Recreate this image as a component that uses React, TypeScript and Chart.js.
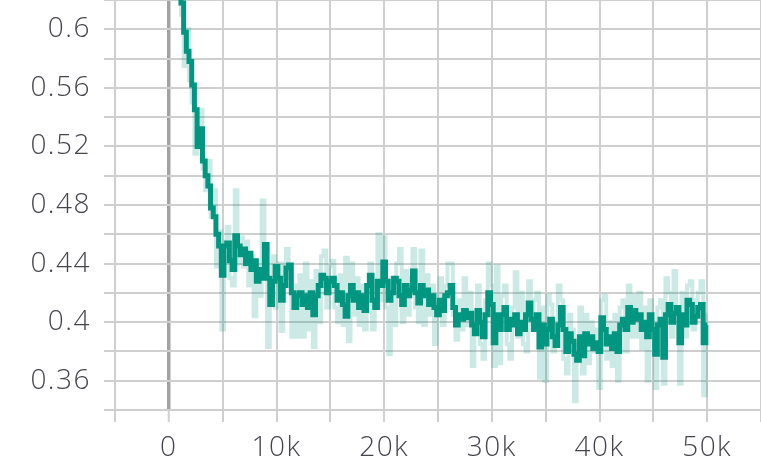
import React, { useEffect, useRef } from "react";
import { Chart, registerables } from "chart.js";

Chart.register(...registerables);

// Training steps: one logged value every 250 steps, from 0 to 50k
const STEP_START = 0;
const STEP_SIZE = 250;

// Smoothed curve (dark)
const smoothed = [
  0.80, 0.75, 0.71, 0.675, 0.645, 0.618, 0.598, 0.585, 0.578, 0.562,
  0.545, 0.52, 0.532, 0.51, 0.5, 0.493, 0.478, 0.472, 0.46, 0.452,
  0.432, 0.452, 0.454, 0.442, 0.436, 0.459, 0.452, 0.446, 0.45, 0.44,
  0.447, 0.436, 0.442, 0.428, 0.436, 0.43, 0.453, 0.43, 0.412, 0.428,
  0.438, 0.43, 0.415, 0.425, 0.437, 0.439, 0.42, 0.41, 0.418, 0.42,
  0.412, 0.418, 0.41, 0.42, 0.405, 0.418, 0.425, 0.432, 0.43, 0.42,
  0.428, 0.43, 0.425, 0.415, 0.42, 0.412, 0.404, 0.418, 0.425, 0.415,
  0.42, 0.41, 0.418, 0.408, 0.425, 0.432, 0.415, 0.41, 0.428, 0.425,
  0.441, 0.428, 0.415, 0.42, 0.43, 0.428, 0.418, 0.412, 0.425, 0.418,
  0.422, 0.435, 0.42, 0.413, 0.425, 0.418, 0.422, 0.412, 0.418, 0.41,
  0.405, 0.415, 0.408, 0.418, 0.42, 0.425, 0.41, 0.398, 0.405, 0.402,
  0.408, 0.403, 0.406, 0.398, 0.392, 0.408, 0.4, 0.39, 0.405, 0.42,
  0.412, 0.386, 0.405, 0.395, 0.405, 0.41, 0.395, 0.402, 0.398, 0.405,
  0.392, 0.4, 0.395, 0.405, 0.413, 0.402, 0.395, 0.405, 0.383, 0.398,
  0.385, 0.395, 0.402, 0.39, 0.384, 0.398, 0.41, 0.395, 0.38, 0.392,
  0.387, 0.378, 0.374, 0.39, 0.377, 0.392, 0.385, 0.39, 0.382, 0.386,
  0.38, 0.403, 0.395, 0.385, 0.39, 0.382, 0.392, 0.38, 0.398, 0.402,
  0.395, 0.41, 0.4, 0.408, 0.402, 0.405, 0.395, 0.4, 0.39, 0.405,
  0.395, 0.378, 0.398, 0.402, 0.376, 0.405, 0.412, 0.4, 0.406, 0.41,
  0.386, 0.405, 0.398, 0.415, 0.412, 0.4, 0.404, 0.41, 0.412, 0.386,
  0.398,
];

// Raw values (light)
const raw = [
  0.82, 0.74, 0.72, 0.66, 0.655, 0.61, 0.575, 0.6, 0.565, 0.55,
  0.515, 0.53, 0.545, 0.505, 0.49, 0.51, 0.472, 0.49, 0.438, 0.462,
  0.395, 0.455, 0.465, 0.43, 0.425, 0.49, 0.44, 0.458, 0.438, 0.455,
  0.425, 0.445, 0.404, 0.442, 0.418, 0.483, 0.44, 0.383, 0.425, 0.445,
  0.41, 0.44, 0.394, 0.44, 0.45, 0.43, 0.39, 0.425, 0.39, 0.432,
  0.39, 0.44, 0.395, 0.428, 0.383, 0.435, 0.4, 0.445, 0.449, 0.41,
  0.438, 0.442, 0.41, 0.4, 0.432, 0.398, 0.444, 0.387, 0.44, 0.405,
  0.43, 0.398, 0.425, 0.395, 0.42, 0.44, 0.395, 0.425, 0.46, 0.415,
  0.458, 0.41, 0.378, 0.43, 0.398, 0.44, 0.45, 0.4, 0.435, 0.405,
  0.43, 0.45, 0.41, 0.4, 0.449, 0.398, 0.432, 0.405, 0.425, 0.385,
  0.412, 0.43, 0.398, 0.425, 0.44, 0.44, 0.405, 0.388, 0.415, 0.395,
  0.43, 0.398, 0.42, 0.37, 0.405, 0.425, 0.385, 0.375, 0.415, 0.44,
  0.425, 0.37, 0.438, 0.372, 0.418, 0.425, 0.385, 0.375, 0.41, 0.434,
  0.39, 0.42, 0.385, 0.38, 0.428, 0.395, 0.415, 0.42, 0.362, 0.41,
  0.36, 0.418, 0.412, 0.38, 0.39, 0.425, 0.415, 0.375, 0.365, 0.405,
  0.395, 0.346, 0.385, 0.41, 0.365, 0.405, 0.372, 0.4, 0.38, 0.395,
  0.355, 0.415, 0.418, 0.375, 0.4, 0.37, 0.405, 0.36, 0.41, 0.415,
  0.38, 0.425, 0.39, 0.418, 0.39, 0.42, 0.382, 0.41, 0.36, 0.415,
  0.39, 0.355, 0.41, 0.415, 0.358, 0.43, 0.42, 0.39, 0.435, 0.41,
  0.358, 0.42, 0.39, 0.425, 0.428, 0.395, 0.415, 0.42, 0.428, 0.35,
  0.405,
];

const X_MIN = -5000;
const X_MAX = 55000;
const X_STEP = 5000;
const Y_MIN = 0.34;
const Y_MAX = 0.62;
const Y_STEP = 0.02;

const DARK = "#00967f";
const LIGHT = "rgba(0, 150, 127, 0.2)";
const GRID = "#cfcfcf";
const ZERO = "#a3a3a3";
const TEXT = "#45454f";

const toPoints = (vals: number[]) =>
  vals.map((v, i) => ({ x: STEP_START + i * STEP_SIZE, y: v }));

const spacingPlugin = {
  id: "letterSpacing",
  beforeDraw(chart: any) {
    try {
      chart.ctx.letterSpacing = "1.5px";
    } catch (e) {}
  },
};

export default function App() {
  const ref = useRef<HTMLCanvasElement | null>(null);

  useEffect(() => {
    if (!ref.current) return;
    const font = { family: "'Open Sans', sans-serif", size: 28, weight: "300" as any };
    const chart = new Chart(ref.current, {
      type: "line",
      data: {
        datasets: [
          {
            label: "smoothed",
            data: toPoints(smoothed),
            borderColor: DARK,
            borderWidth: 5,
            pointRadius: 0,
            stepped: "middle",
            order: 0,
          },
          {
            label: "raw",
            data: toPoints(raw),
            borderColor: LIGHT,
            borderWidth: 4,
            pointRadius: 0,
            stepped: "middle",
            order: 1,
          },
        ],
      },
      plugins: [spacingPlugin],
      options: {
        responsive: false,
        animation: false,
        layout: { padding: 0 },
        plugins: { legend: { display: false }, tooltip: { enabled: false } },
        scales: {
          x: {
            type: "linear",
            min: X_MIN,
            max: X_MAX,
            afterFit: (s: any) => {
              s.height = 51;
              s.paddingLeft = 0;
              s.paddingRight = 0;
              s.paddingTop = 0;
              s.paddingBottom = 0;
            },
            border: { display: false },
            grid: {
              color: (c: any) => (c.tick && c.tick.value === 0 ? ZERO : GRID),
              lineWidth: (c: any) => (c.tick && c.tick.value === 0 ? 3.5 : 2),
              tickColor: GRID,
              tickWidth: 2,
              tickLength: 12,
            },
            ticks: {
              stepSize: X_STEP,
              autoSkip: false,
              maxRotation: 0,
              padding: 9,
              color: TEXT,
              font,
              callback: (v: any) => {
                const n = Number(v);
                if (n < 0 || n % 10000 !== 0) return "";
                return n === 0 ? "0" : n / 1000 + "k";
              },
            },
          },
          y: {
            type: "linear",
            min: Y_MIN,
            max: Y_MAX,
            afterFit: (s: any) => {
              s.width = 115;
              s.paddingLeft = 0;
              s.paddingRight = 0;
              s.paddingTop = 0;
              s.paddingBottom = 0;
            },
            border: { display: false },
            grid: {
              color: GRID,
              lineWidth: 2,
              tickColor: GRID,
              tickWidth: 2,
              tickLength: 11,
            },
            ticks: {
              stepSize: Y_STEP,
              autoSkip: false,
              padding: 13,
              color: TEXT,
              font,
              callback: (v: any) => {
                const n = Math.round(Number(v) * 100);
                if (n % 4 !== 0) return "";
                return String(n / 100);
              },
            },
          },
        },
      },
    });
    return () => chart.destroy();
  }, []);

  return (
    <div style={{ position: "fixed", left: 0, top: 0, width: 761, height: 461, background: "#fff" }}>
      <canvas ref={ref} width={761} height={461} style={{ display: "block" }} />
    </div>
  );
}
